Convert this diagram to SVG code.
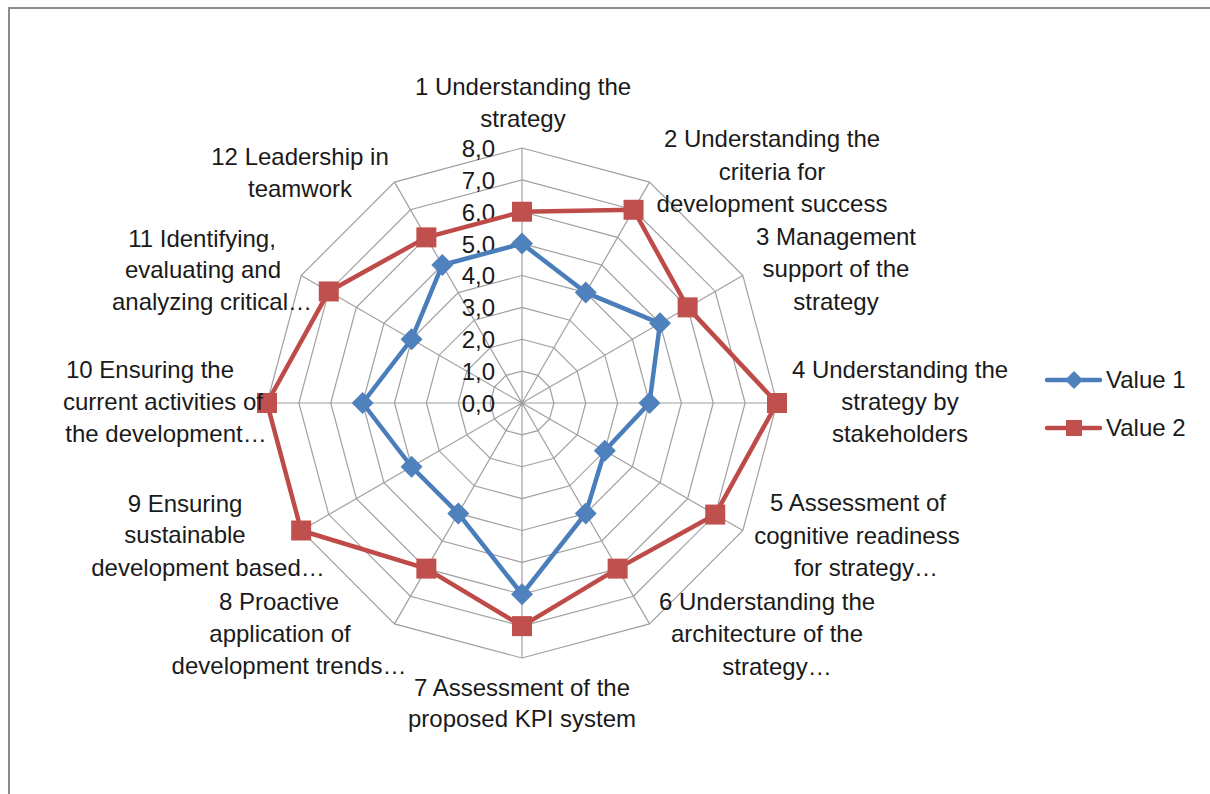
<svg xmlns="http://www.w3.org/2000/svg" xmlns:xlink="http://www.w3.org/1999/xlink" width="1210" height="794" viewBox="0 0 1210 794">
<style>
  text { font-family: "Liberation Sans", Arial, sans-serif; font-size: 24px; fill: #1a1a1a; }
  .lbl text { text-anchor: middle; }
  .tick { text-anchor: end; }
  .grid { fill: none; stroke: #a0a0a0; stroke-width: 1.2; }
  .s1 { fill: none; stroke: #4a7ebb; stroke-width: 4.5; stroke-linejoin: round; }
  .s2 { fill: none; stroke: #be4b48; stroke-width: 4.5; stroke-linejoin: round; }
</style>
<defs>
  <path id="dia" d="M0,-11 L11,0 L0,11 L-11,0 Z" fill="#4f81bd"/>
  <rect id="sq" x="-10" y="-10" width="20" height="20" fill="#c0504d"/>
  <path id="diaS" d="M0,-9 L9,0 L0,9 L-9,0 Z" fill="#4f81bd"/>
  <rect id="sqS" x="-8" y="-8" width="16" height="16" fill="#c0504d"/>
</defs>
<rect x="0" y="0" width="1210" height="794" fill="#ffffff"/>
<rect x="9" y="8" width="1220" height="800" fill="none" stroke="#8c8c8c" stroke-width="2"/>

<g id="grid" transform="translate(522,403)">
  <polygon class="grid" points="0,-31.88 15.94,-27.6 27.6,-15.94 31.88,0 27.6,15.94 15.94,27.6 0,31.88 -15.94,27.6 -27.6,15.94 -31.88,0 -27.6,-15.94 -15.94,-27.6"/>
  <polygon class="grid" points="0,-63.75 31.88,-55.21 55.21,-31.88 63.75,0 55.21,31.88 31.88,55.21 0,63.75 -31.88,55.21 -55.21,31.88 -63.75,0 -55.21,-31.88 -31.88,-55.21"/>
  <polygon class="grid" points="0,-95.63 47.81,-82.81 82.81,-47.81 95.63,0 82.81,47.81 47.81,82.81 0,95.63 -47.81,82.81 -82.81,47.81 -95.63,0 -82.81,-47.81 -47.81,-82.81"/>
  <polygon class="grid" points="0,-127.5 63.75,-110.42 110.42,-63.75 127.5,0 110.42,63.75 63.75,110.42 0,127.5 -63.75,110.42 -110.42,63.75 -127.5,0 -110.42,-63.75 -63.75,-110.42"/>
  <polygon class="grid" points="0,-159.38 79.69,-138.02 138.02,-79.69 159.38,0 138.02,79.69 79.69,138.02 0,159.38 -79.69,138.02 -138.02,79.69 -159.38,0 -138.02,-79.69 -79.69,-138.02"/>
  <polygon class="grid" points="0,-191.25 95.63,-165.63 165.63,-95.63 191.25,0 165.63,95.63 95.63,165.63 0,191.25 -95.63,165.63 -165.63,95.63 -191.25,0 -165.63,-95.63 -95.63,-165.63"/>
  <polygon class="grid" points="0,-223.13 111.56,-193.23 193.23,-111.56 223.13,0 193.23,111.56 111.56,193.23 0,223.13 -111.56,193.23 -193.23,111.56 -223.13,0 -193.23,-111.56 -111.56,-193.23"/>
  <polygon class="grid" points="0,-255 127.5,-220.84 220.84,-127.5 255,0 220.84,127.5 127.5,220.84 0,255 -127.5,220.84 -220.84,127.5 -255,0 -220.84,-127.5 -127.5,-220.84"/>
  <path class="grid" d="M0,0 L0,-255 M0,0 L127.5,-220.84 M0,0 L220.84,-127.5 M0,0 L255,0 M0,0 L220.84,127.5 M0,0 L127.5,220.84 M0,0 L0,255 M0,0 L-127.5,220.84 M0,0 L-220.84,127.5 M0,0 L-255,0 M0,0 L-220.84,-127.5 M0,0 L-127.5,-220.84"/>
</g>

<g id="ticks">
  <text class="tick" x="495" y="157">8,0</text>
  <text class="tick" x="495" y="189">7,0</text>
  <text class="tick" x="495" y="221">6,0</text>
  <text class="tick" x="495" y="253">5,0</text>
  <text class="tick" x="495" y="284">4,0</text>
  <text class="tick" x="495" y="316">3,0</text>
  <text class="tick" x="495" y="348">2,0</text>
  <text class="tick" x="495" y="380">1,0</text>
  <text class="tick" x="495" y="412">0,0</text>
</g>

<g id="connectors" transform="translate(522,403)">
  <g id="series1">
    <polygon class="s1" points="0,-159.38 63.75,-110.42 138.02,-79.69 127.5,0 82.81,47.81 63.75,110.42 0,191.25 -63.75,110.42 -110.42,63.75 -159.38,0 -110.42,-63.75 -79.69,-138.02"/>
    <use xlink:href="#dia" href="#dia" x="0" y="-159.38"/>
    <use xlink:href="#dia" href="#dia" x="63.75" y="-110.42"/>
    <use xlink:href="#dia" href="#dia" x="138.02" y="-79.69"/>
    <use xlink:href="#dia" href="#dia" x="127.5" y="0"/>
    <use xlink:href="#dia" href="#dia" x="82.81" y="47.81"/>
    <use xlink:href="#dia" href="#dia" x="63.75" y="110.42"/>
    <use xlink:href="#dia" href="#dia" x="0" y="191.25"/>
    <use xlink:href="#dia" href="#dia" x="-63.75" y="110.42"/>
    <use xlink:href="#dia" href="#dia" x="-110.42" y="63.75"/>
    <use xlink:href="#dia" href="#dia" x="-159.38" y="0"/>
    <use xlink:href="#dia" href="#dia" x="-110.42" y="-63.75"/>
    <use xlink:href="#dia" href="#dia" x="-79.69" y="-138.02"/>
  </g>
  <g id="series2">
    <polygon class="s2" points="0,-191.25 111.56,-193.23 165.63,-95.63 255,0 193.23,111.56 95.63,165.63 0,223.13 -95.63,165.63 -220.84,127.5 -255,0 -193.23,-111.56 -95.63,-165.63"/>
    <use xlink:href="#sq" href="#sq" x="0" y="-191.25"/>
    <use xlink:href="#sq" href="#sq" x="111.56" y="-193.23"/>
    <use xlink:href="#sq" href="#sq" x="165.63" y="-95.63"/>
    <use xlink:href="#sq" href="#sq" x="255" y="0"/>
    <use xlink:href="#sq" href="#sq" x="193.23" y="111.56"/>
    <use xlink:href="#sq" href="#sq" x="95.63" y="165.63"/>
    <use xlink:href="#sq" href="#sq" x="0" y="223.13"/>
    <use xlink:href="#sq" href="#sq" x="-95.63" y="165.63"/>
    <use xlink:href="#sq" href="#sq" x="-220.84" y="127.5"/>
    <use xlink:href="#sq" href="#sq" x="-255" y="0"/>
    <use xlink:href="#sq" href="#sq" x="-193.23" y="-111.56"/>
    <use xlink:href="#sq" href="#sq" x="-95.63" y="-165.63"/>
  </g>
</g>

<g class="lbl">
  <g id="cat1"><text x="523" y="95">1 Understanding the</text><text x="523" y="127">strategy</text></g>
  <g id="cat2"><text x="772" y="147">2 Understanding the</text><text x="772" y="180">criteria for</text><text x="772" y="212">development success</text></g>
  <g id="cat3"><text x="836" y="245">3 Management</text><text x="836" y="277">support of the</text><text x="836" y="310">strategy</text></g>
  <g id="cat4"><text x="900" y="378">4 Understanding the</text><text x="900" y="410">strategy by</text><text x="900" y="442">stakeholders</text></g>
  <g id="cat5"><text x="858" y="511">5 Assessment of</text><text x="857" y="544">cognitive readiness</text><text x="866" y="576">for strategy…</text></g>
  <g id="cat6"><text x="767" y="610">6 Understanding the</text><text x="767" y="642">architecture of the</text><text x="777" y="675">strategy…</text></g>
  <g id="cat7"><text x="522" y="696">7 Assessment of the</text><text x="522" y="727">proposed KPI system</text></g>
  <g id="cat8"><text x="279" y="610">8 Proactive</text><text x="280" y="642">application of</text><text x="289" y="674">development trends…</text></g>
  <g id="cat9"><text x="185" y="512">9 Ensuring</text><text x="185" y="543">sustainable</text><text x="208" y="576">development based…</text></g>
  <g id="cat10"><text x="150" y="378">10 Ensuring the</text><text x="163" y="410">current activities of</text><text x="166" y="442">the development…</text></g>
  <g id="cat11"><text x="202" y="247">11 Identifying,</text><text x="203" y="278">evaluating and</text><text x="212" y="310">analyzing critical…</text></g>
  <g id="cat12"><text x="300" y="165">12 Leadership in</text><text x="300" y="197">teamwork</text></g>
</g>

<g id="legend">
  <g id="leg1">
    <line x1="1047" y1="380" x2="1100" y2="380" stroke="#4a7ebb" stroke-width="4.5" stroke-linecap="round"/>
    <use xlink:href="#diaS" href="#diaS" x="1074" y="380"/>
    <text x="1106" y="388">Value 1</text>
  </g>
  <g id="leg2">
    <line x1="1047" y1="428" x2="1100" y2="428" stroke="#be4b48" stroke-width="4.5" stroke-linecap="round"/>
    <use xlink:href="#sqS" href="#sqS" x="1074" y="428"/>
    <text x="1106" y="436">Value 2</text>
  </g>
</g>
</svg>
